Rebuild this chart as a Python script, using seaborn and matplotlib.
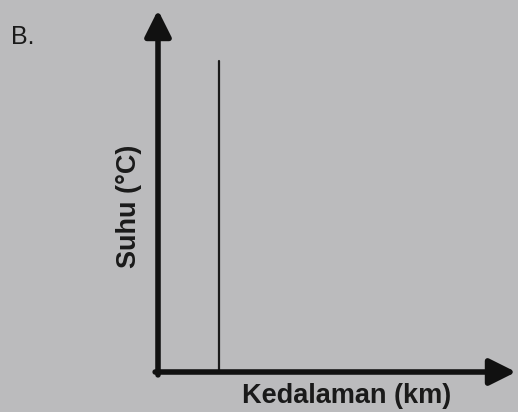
import pandas as pd
import seaborn as sns
import matplotlib.pyplot as plt

# Data: temperature stays constant-depth line (grafik B)
kedalaman = [1.7, 1.7]
suhu = [0, 8.6]
x_lim = (0, 10)
y_lim = (0, 10)

df = pd.DataFrame({'Kedalaman': kedalaman, 'Suhu': suhu})

sns.set_style("white")
plt.rcParams['font.family'] = ['Liberation Sans', 'DejaVu Sans']

bg = '#bbbbbd'
fig = plt.figure(figsize=(5.18, 4.12), dpi=100, facecolor=bg)
ax = fig.add_axes([158 / 518, 40 / 412, 358 / 518, 362 / 412])
ax.set_facecolor(bg)

sns.lineplot(data=df, x='Kedalaman', y='Suhu', color='#1a1a1a', linewidth=1.6,
             ax=ax, estimator=None, sort=False)

ax.set_xlim(*x_lim)
ax.set_ylim(*y_lim)
ax.set_xticks([])
ax.set_yticks([])
ax.set_xlabel('')
ax.set_ylabel('')
for s in ax.spines.values():
    s.set_visible(False)

# Sumbu dengan panah
arrow = dict(arrowstyle='-|>,head_length=0.32,head_width=0.16', lw=4,
             color='#111111', mutation_scale=50, shrinkA=0, shrinkB=0)
ax.annotate('', xy=(1, 0), xytext=(-0.008, 0), xycoords='axes fraction',
            arrowprops=arrow, annotation_clip=False)
ax.annotate('', xy=(0, 1), xytext=(0, -0.008), xycoords='axes fraction',
            arrowprops=arrow, annotation_clip=False)

ax.text(0.528, -0.066, 'Kedalaman (km)', transform=ax.transAxes, ha='center',
        va='center', fontsize=19.5, fontweight='bold', color='#1a1a1a')
ax.text(-0.08, 0.458, 'Suhu (°C)', transform=ax.transAxes, ha='center',
        va='center', rotation=90, fontsize=19.5, fontweight='bold', color='#1a1a1a')
fig.text(0.022, 1 - 37 / 412, 'B.', ha='left', va='center', fontsize=18,
         color='#1a1a1a')

fig.savefig('out.png', dpi=100, facecolor=bg)
